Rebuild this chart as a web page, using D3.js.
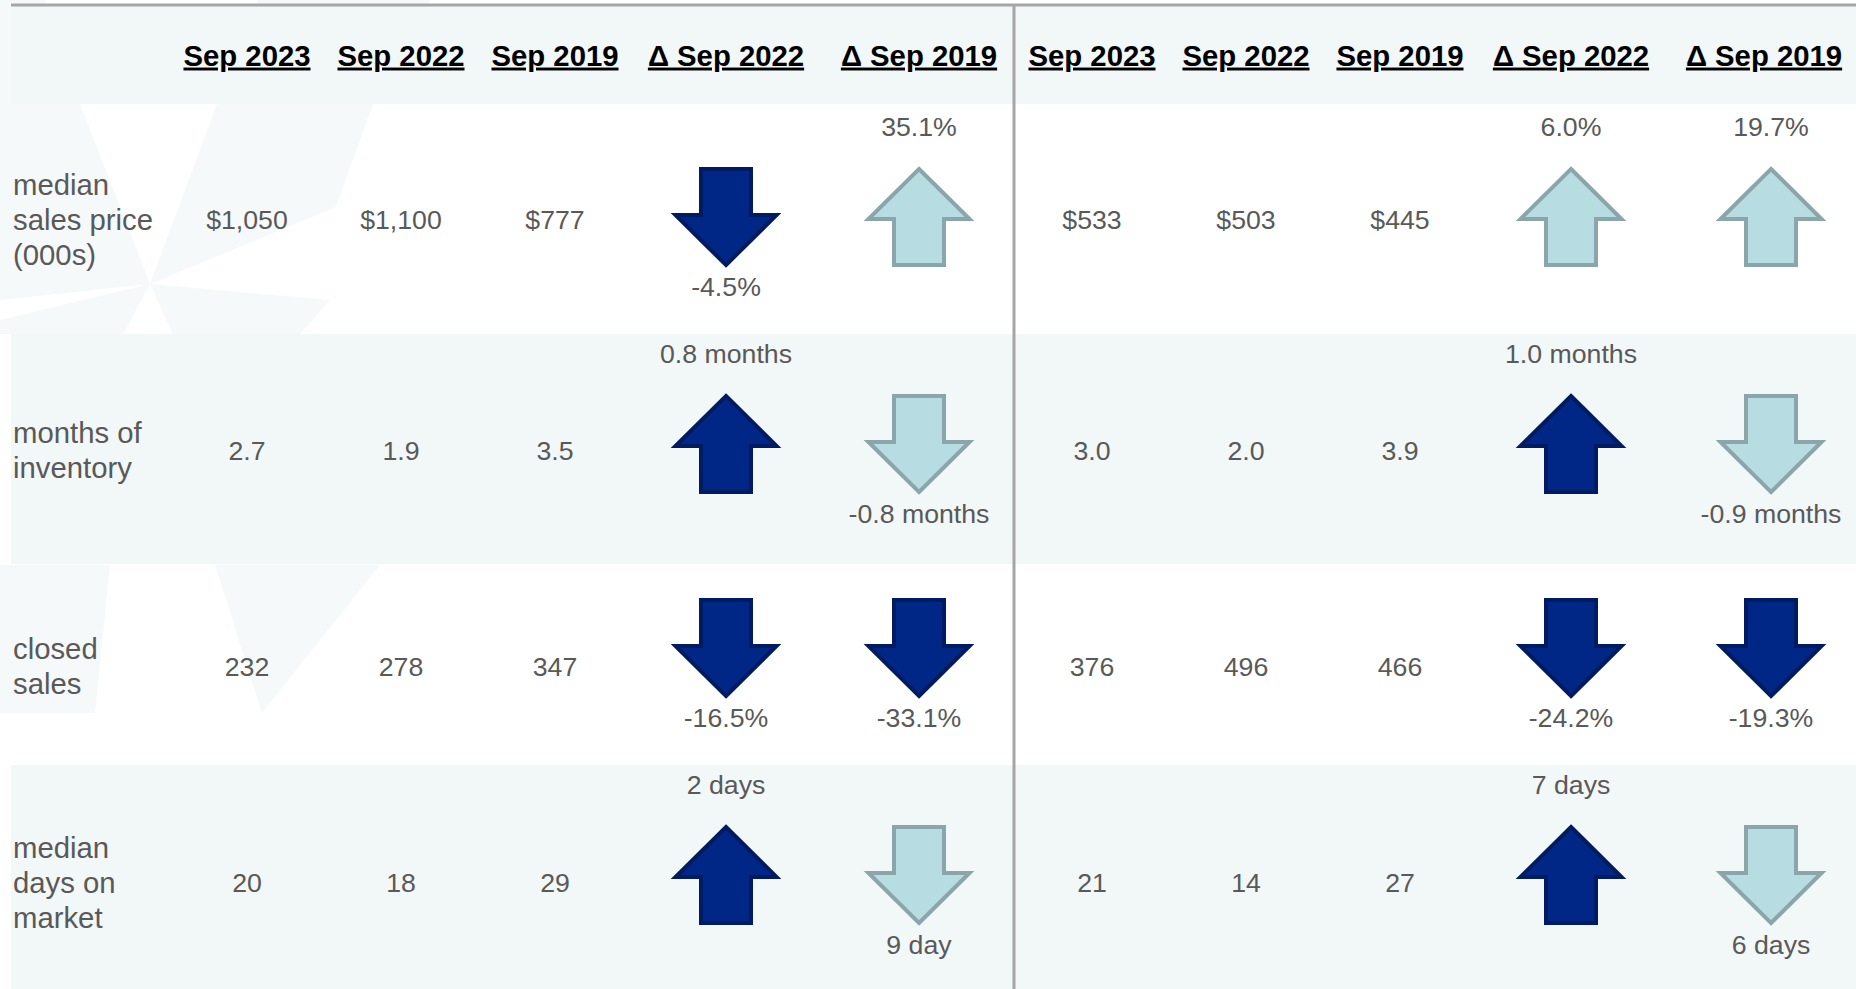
<!DOCTYPE html>
<html>
<head>
<meta charset="utf-8">
<script src="https://cdnjs.cloudflare.com/ajax/libs/d3/7.8.5/d3.min.js"></script>
<style>
  body { margin: 0; background: #fff; }
  text { font-family: "Liberation Sans", Arial, sans-serif; }
</style>
</head>
<body>
<svg id="table" width="1856" height="989"></svg>
<script>
// ---- data ----
var metrics = ["price", "inventory", "sales", "days"];
var metricLabels = [
    ["median", "sales price", "(000s)"],
    ["months of", "inventory"],
    ["closed", "sales"],
    ["median", "days on", "market"]
];
var periods = ["Sep 2023", "Sep 2022", "Sep 2019"];
var deltaHeads = ["\u0394 Sep 2022", "\u0394 Sep 2019"];

var leftValues = [
    [1050, 1100, 777],
    [2.7, 1.9, 3.5],
    [232, 278, 347],
    [20, 18, 29]
];
var rightValues = [
    [533, 503, 445],
    [3.0, 2.0, 3.9],
    [376, 496, 466],
    [21, 14, 27]
];
var leftDeltaText = [
    ["-4.5%", "35.1%"],
    ["0.8 months", "-0.8 months"],
    ["-16.5%", "-33.1%"],
    ["2 days", "9 day"]
];
var rightDeltaText = [
    ["6.0%", "19.7%"],
    ["1.0 months", "-0.9 months"],
    ["-24.2%", "-19.3%"],
    ["7 days", "6 days"]
];
// direction that counts as "good" for each metric (light arrow), otherwise dark
var goodDirection = [1, -1, 1, -1];

// ---- layout ----
var svg = d3.select("#table");
var W = 1856, H = 989;
var grey = "#595959";

var fmt = [
    function (v) { return "$" + d3.format(",")(v); },
    d3.format(".1f"),
    d3.format("d"),
    d3.format("d")
];

var rowTop = d3.scaleOrdinal().domain(metrics).range([104, 334, 564, 765]);
var rowBottom = d3.scaleOrdinal().domain(metrics).range([334, 564, 765, 989]);
var rowMid = d3.scaleOrdinal().domain(metrics).range([219, 450, 666, 882]);
var arrowTop = d3.scaleOrdinal().domain(metrics).range([167, 394, 598, 825]);

var cols = periods.concat(deltaHeads);
var colX = d3.scaleOrdinal().domain(cols).range([247, 401, 555, 726, 919]);
var panelOffset = [0, 845];
// the right panel's last delta column sits a little right of its header
var deltaShift = [[0, 0], [0, 7]];

// background watermark (faint star)
var wm = svg.append("g").attr("fill", "#e4eff1").attr("opacity", 0.35);
var rays = [
    [[150, 284], [80, 104], [45, 0], [0, 0], [0, 300]],
    [[150, 284], [217, 104], [258, 0], [430, 0], [373, 104], [336, 207]],
    [[150, 284], [123, 334], [0, 334], [0, 320]],
    [[150, 284], [173, 334], [300, 334], [330, 300]],
    [[215, 565], [380, 565], [262, 713]],
    [[0, 565], [110, 565], [95, 713], [0, 713]]
];
wm.selectAll("polygon").data(rays).enter().append("polygon")
    .attr("points", function (d) { return d.map(function (p) { return p.join(","); }).join(" "); });

// shaded bands
var bands = [[6, 104]].concat(metrics.filter(function (m, i) { return i % 2 === 1; })
    .map(function (m) { return [rowTop(m), rowBottom(m)]; }));
svg.append("g").selectAll("rect").data(bands).enter().append("rect")
    .attr("x", 11).attr("y", function (d) { return d[0]; })
    .attr("width", W - 11).attr("height", function (d) { return d[1] - d[0]; })
    .attr("fill", "#f2f7f7");

// top rule and panel divider
svg.append("line").attr("x1", 11).attr("x2", W).attr("y1", 5).attr("y2", 5)
    .attr("stroke", "#a6a6a6").attr("stroke-width", 3);
svg.append("line").attr("x1", 1014).attr("x2", 1014).attr("y1", 5).attr("y2", H)
    .attr("stroke", "#a6a6a6").attr("stroke-width", 3);

// row labels
metrics.forEach(function (m, i) {
    var lines = metricLabels[i];
    var lh = 35;
    var y0 = rowMid(m) - (lines.length - 1) * lh / 2;
    svg.append("text")
        .attr("x", 13)
        .attr("font-size", "29.3px")
        .attr("fill", grey)
        .selectAll("tspan").data(lines).enter().append("tspan")
        .attr("x", 13)
        .attr("y", function (d, j) { return y0 + j * lh; })
        .attr("dy", "0.36em")
        .text(function (d) { return d; });
});

// arrow shape
var aw = 101, ah = 96, headH = 50, sw = 50;
function arrowPath(dir) {
    var s = dir > 0 ? 1 : -1;
    var t = -ah / 2, b = ah / 2, hb = -ah / 2 + headH;
    var pts = [[0, t], [aw / 2, hb], [sw / 2, hb], [sw / 2, b], [-sw / 2, b], [-sw / 2, hb], [-aw / 2, hb]];
    return "M" + pts.map(function (p) { return p[0] + "," + (p[1] * s); }).join("L") + "Z";
}
var tones = {
    dark: {fill: "#002786", stroke: "#001b62"},
    light: {fill: "#b7dde2", stroke: "#8aa6aa"}
};

function drawPanel(values, deltaText, p) {
    var g = svg.append("g").attr("transform", "translate(" + panelOffset[p] + ",0)");

    // headers
    g.selectAll(".head").data(cols).enter().append("text")
        .attr("class", "head")
        .attr("x", function (d) { return colX(d); })
        .attr("y", 55)
        .attr("dy", "0.36em")
        .attr("text-anchor", "middle")
        .attr("font-size", "29.3px")
        .attr("font-weight", "bold")
        .attr("text-decoration", "underline")
        .attr("fill", "#000")
        .text(function (d) { return d; });

    metrics.forEach(function (m, i) {
        var row = values[i];
        // values
        g.selectAll(".v" + i).data(row).enter().append("text")
            .attr("x", function (d, j) { return colX(periods[j]); })
            .attr("y", rowMid(m))
            .attr("dy", "0.36em")
            .attr("text-anchor", "middle")
            .attr("font-size", "26.7px")
            .attr("fill", grey)
            .text(function (d) { return fmt[i](d); });

        // deltas vs Sep 2022 and Sep 2019
        var deltas = [row[0] - row[1], row[0] - row[2]].map(function (d, k) {
            return {dir: d >= 0 ? 1 : -1, text: deltaText[i][k], col: deltaHeads[k], k: k};
        });
        var top = arrowTop(m);
        var cy = top + (ah + 4) / 2;
        var cell = g.selectAll(".d" + i).data(deltas).enter().append("g")
            .attr("transform", function (d) { return "translate(" + (colX(d.col) + deltaShift[p][d.k]) + ",0)"; });
        cell.append("path")
            .attr("transform", "translate(0," + cy + ")")
            .attr("d", function (d) { return arrowPath(d.dir); })
            .attr("fill", function (d) { return tones[d.dir === goodDirection[i] ? "light" : "dark"].fill; })
            .attr("stroke", function (d) { return tones[d.dir === goodDirection[i] ? "light" : "dark"].stroke; })
            .attr("stroke-width", 4);
        cell.append("text")
            .attr("x", 0)
            .attr("y", function (d) { return d.dir > 0 ? top - 41 : top + ah + 4 + 19; })
            .attr("dy", "0.36em")
            .attr("text-anchor", "middle")
            .attr("font-size", "26.7px")
            .attr("fill", grey)
            .text(function (d) { return d.text; });
    });
}

drawPanel(leftValues, leftDeltaText, 0);
drawPanel(rightValues, rightDeltaText, 1);
</script>
</body>
</html>
